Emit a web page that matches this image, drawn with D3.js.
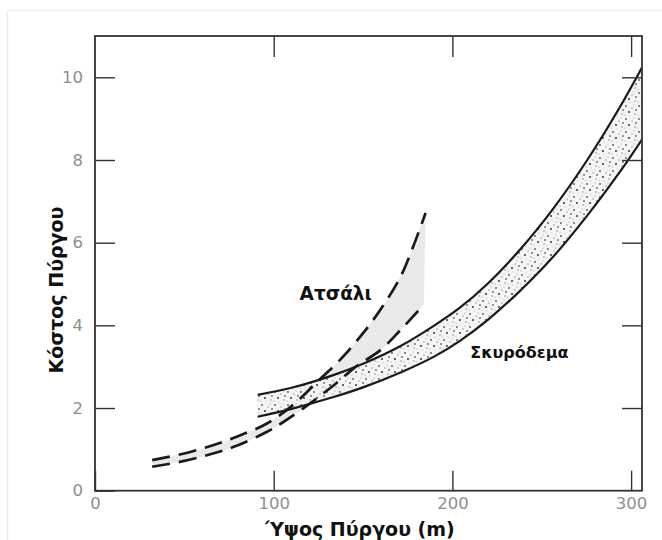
<!DOCTYPE html>
<html>
<head>
<meta charset="utf-8">
<script src="https://cdn.jsdelivr.net/npm/d3@7"></script>
<style>
  html, body { margin: 0; padding: 0; background: #fff; }
  svg { display: block; }
</style>
</head>
<body>
<svg id="chart" width="662" height="540"></svg>
<script>
// Tower height (m) vs. tower cost — concrete band and steel band
const concreteX     = [91, 110, 133, 150, 171, 190, 204, 220, 238, 256, 275, 294, 306];
const concreteHigh  = [2.32, 2.49, 2.79, 3.07, 3.5, 4.0, 4.42, 5.02, 5.84, 6.8, 7.97, 9.3, 10.23];
const concreteLow   = [1.79, 1.98, 2.26, 2.5, 2.86, 3.25, 3.62, 4.14, 4.84, 5.64, 6.63, 7.73, 8.49];

const steelHighX = [32, 50, 66, 80, 96, 111, 124, 137, 150, 161, 171, 178, 185];
const steelHigh  = [0.74, 0.9, 1.1, 1.32, 1.62, 2.08, 2.62, 3.16, 3.81, 4.46, 5.18, 5.9, 6.72];
const steelLowX  = [32, 50, 66, 80, 96, 105, 120, 135, 146, 160, 171, 184];
const steelLow   = [0.58, 0.72, 0.9, 1.1, 1.42, 1.65, 2.1, 2.6, 3.0, 3.41, 3.89, 4.5];

const xTicks = [0, 100, 200, 300];
const yTicks = [0, 2, 4, 6, 8, 10];
const xTitle = "Ύψος Πύργου (m)";
const yTitle = "Κόστος Πύργου";
const steelLabel = "Ατσάλι";
const concreteLabel = "Σκυρόδεμα";

const svg = d3.select("#chart");
const plotLeft = 95, plotRight = 642, plotTop = 36, plotBottom = 490.7;

const x = d3.scaleLinear().domain([0, 306.1]).range([plotLeft, plotRight]);
const y = d3.scaleLinear().domain([0, 11]).range([plotBottom, plotTop]);

// faint border of the sheet
svg.append("rect").attr("x", 7.5).attr("y", 10.5).attr("width", 700).attr("height", 600)
  .attr("fill", "none").attr("stroke", "#ededed").attr("stroke-width", 1.5);

const defs = svg.append("defs");
defs.append("clipPath").attr("id", "plotClip")
  .append("rect").attr("x", plotLeft).attr("y", plotTop)
  .attr("width", plotRight - plotLeft).attr("height", plotBottom - plotTop);

// stipple texture for the concrete band
const pat = defs.append("pattern").attr("id", "stipple")
  .attr("patternUnits", "userSpaceOnUse").attr("width", 13).attr("height", 13);
pat.append("rect").attr("width", 13).attr("height", 13).attr("fill", "#f5f5f5");
[[2, 2, 0.9, "#555"], [8, 4, 0.7, "#888"], [5, 8, 1.1, "#444"], [11, 10, 0.7, "#777"],
 [1, 11, 0.6, "#999"], [10, 1, 0.6, "#999"], [6, 12, 0.5, "#aaa"], [12, 6, 0.9, "#666"]]
  .forEach(([cx, cy, r, c]) => pat.append("circle").attr("cx", cx).attr("cy", cy).attr("r", r).attr("fill", c));

// fine light texture for the steel band
const pat2 = defs.append("pattern").attr("id", "steelFill")
  .attr("patternUnits", "userSpaceOnUse").attr("width", 4).attr("height", 4);
pat2.append("rect").attr("width", 4).attr("height", 4).attr("fill", "#ececec");
pat2.append("circle").attr("cx", 1).attr("cy", 1).attr("r", 0.6).attr("fill", "#d0d0d0");
pat2.append("circle").attr("cx", 3).attr("cy", 3).attr("r", 0.5).attr("fill", "#d8d8d8");

const plot = svg.append("g").attr("clip-path", "url(#plotClip)");

const curve = d3.curveCatmullRom.alpha(0.5);
const line = d3.line().x(d => x(d[0])).y(d => y(d[1])).curve(curve);

const cHigh = concreteX.map((v, i) => [v, concreteHigh[i]]);
const cLow = concreteX.map((v, i) => [v, concreteLow[i]]);
const sHigh = steelHighX.map((v, i) => [v, steelHigh[i]]);
const sLow = steelLowX.map((v, i) => [v, steelLow[i]]);

// steel band fill
plot.append("path")
  .attr("d", line(sHigh) + "L" + line(sLow.slice().reverse()).slice(1) + "Z")
  .attr("fill", "url(#steelFill)").attr("stroke", "none");

// concrete band fill
plot.append("path")
  .attr("d", d3.area().x(d => x(d[0])).y0((d, i) => y(concreteLow[i])).y1(d => y(d[1]))
    .curve(curve)(cHigh))
  .attr("fill", "url(#stipple)").attr("stroke", "none");

// steel dashed boundaries
[sHigh, sLow].forEach(pts => plot.append("path").attr("d", line(pts))
  .attr("fill", "none").attr("stroke", "#1a1a1a").attr("stroke-width", 2.7)
  .attr("stroke-dasharray", "18,9"));

// concrete solid boundaries
[cHigh, cLow].forEach(pts => plot.append("path").attr("d", line(pts))
  .attr("fill", "none").attr("stroke", "#1a1a1a").attr("stroke-width", 2.2));

// axes with inward ticks
const tickFont = g => g.selectAll("text").attr("font-family", "DejaVu Sans")
  .attr("font-size", 16.5).attr("fill", "#8f8f8f");
const styleTicks = g => { g.select(".domain").remove();
  g.selectAll("line").attr("stroke", "#333").attr("stroke-width", 1.4); };

svg.append("g").attr("transform", `translate(0,${plotBottom})`)
  .call(d3.axisBottom(x).tickValues(xTicks).tickSizeInner(-20).tickSizeOuter(0).tickPadding(7))
  .call(styleTicks).call(tickFont);
svg.append("g").attr("transform", `translate(${plotLeft},0)`)
  .call(d3.axisLeft(y).tickValues(yTicks).tickSizeInner(-20).tickSizeOuter(0).tickPadding(12))
  .call(styleTicks).call(tickFont);
svg.append("g").attr("transform", `translate(0,${plotTop})`)
  .call(d3.axisTop(x).tickValues(xTicks.slice(1)).tickSizeInner(-21).tickSizeOuter(0).tickFormat(""))
  .call(styleTicks);
svg.append("g").attr("transform", `translate(${plotRight},0)`)
  .call(d3.axisRight(y).tickValues(yTicks.slice(1)).tickSizeInner(-20).tickSizeOuter(0).tickFormat(""))
  .call(styleTicks);

// frame
svg.append("rect").attr("x", plotLeft).attr("y", plotTop)
  .attr("width", plotRight - plotLeft).attr("height", plotBottom - plotTop)
  .attr("fill", "none").attr("stroke", "#333").attr("stroke-width", 1.8);

// series labels
svg.append("text").attr("x", x(114.5)).attr("y", y(4.62)).text(steelLabel)
  .attr("font-family", "DejaVu Sans").attr("font-weight", "bold").attr("font-size", 18.5).attr("fill", "#111");
svg.append("text").attr("x", x(210)).attr("y", y(3.2)).text(concreteLabel)
  .attr("font-family", "DejaVu Sans").attr("font-weight", "bold").attr("font-size", 16).attr("fill", "#111");

// axis titles
svg.append("text").attr("x", 360).attr("y", 536).attr("text-anchor", "middle").text(xTitle)
  .attr("font-family", "DejaVu Sans").attr("font-weight", "bold").attr("font-size", 19).attr("fill", "#111");
svg.append("text").attr("transform", "translate(63,290) rotate(-90)").attr("text-anchor", "middle").text(yTitle)
  .attr("font-family", "DejaVu Sans").attr("font-weight", "bold").attr("font-size", 19).attr("fill", "#111");
</script>
</body>
</html>
